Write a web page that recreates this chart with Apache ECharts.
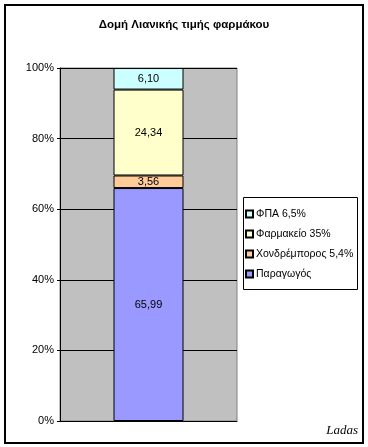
<!DOCTYPE html>
<html><head><meta charset="utf-8">
<script src="https://cdn.jsdelivr.net/npm/echarts@6/dist/echarts.min.js"></script>
<style>html,body{margin:0;padding:0;background:#fff}#c{width:368px;height:447px}</style>
</head><body><div id="c"></div>
<script>
const categories = ['Τιμή'];
const seriesNames = ['Παραγωγός', 'Χονδρέμπορος 5,4%', 'Φαρμακείο 35%', 'ΦΠΑ 6,5%'];
const seriesValues = [65.99, 3.56, 24.34, 6.10];
const seriesColors = ['#9999FF', '#FFCC99', '#FFFFCC', '#CCFFFF'];
const legendOrder = ['ΦΠΑ 6,5%', 'Φαρμακείο 35%', 'Χονδρέμπορος 5,4%', 'Παραγωγός'];
const yTicks = [0, 20, 40, 60, 80, 100];

const font = 'Liberation Sans, Arial, sans-serif';
const chart = echarts.init(document.getElementById('c'), null, {renderer: 'canvas'});
chart.setOption({
  animation: false,
  title: {
    text: 'Δομή Λιανικής τιμής φαρμάκου',
    left: 'center', top: 14,
    textStyle: {fontFamily: font, fontSize: 11.5, fontWeight: 'bold', color: '#000'}
  },
  grid: {left: 60, top: 68, width: 177, height: 353, show: true,
    backgroundColor: '#C0C0C0', borderColor: '#808080', borderWidth: 1},
  legend: {
    data: legendOrder, orient: 'vertical', left: 245, top: 208, padding: 0,
    itemWidth: 7, itemHeight: 7, itemGap: 8,
    textStyle: {fontFamily: font, fontSize: 10.5, color: '#000', padding: [0, 0, 0, -2], lineHeight: 12},
    icon: 'rect'
  },
  xAxis: {type: 'category', data: categories,
    axisLine: {show: true, lineStyle: {color: '#000'}}, axisTick: {show: false},
    axisLabel: {show: false}},
  yAxis: {type: 'value', min: 0, max: 100, interval: 20,
    axisLine: {show: true, lineStyle: {color: '#000'}},
    axisTick: {show: true, length: 3, lineStyle: {color: '#000'}},
    axisLabel: {formatter: v => yTicks.includes(v) ? v + '%' : '', fontFamily: font, fontSize: 11, color: '#000', margin: 6},
    splitLine: {show: true, lineStyle: {color: '#000', width: 1}}},
  series: seriesNames.map((n, i) => ({
    name: n, type: 'bar', stack: 'total', barWidth: 70,
    data: [seriesValues[i]],
    itemStyle: {color: seriesColors[i], borderColor: '#000', borderWidth: 1},
    label: {show: true, position: 'inside', fontFamily: font, fontSize: 11, color: '#000',
      formatter: p => p.value.toFixed(2).replace('.', ',')}
  })),
  graphic: [
    {type: 'rect', shape: {x: 5, y: 5, width: 358, height: 438}, style: {fill: 'none', stroke: '#000', lineWidth: 2}, z: 100},
    {type: 'rect', shape: {x: 243.5, y: 197.5, width: 114, height: 92}, style: {fill: 'none', stroke: '#000', lineWidth: 1}, z: 100},
    {type: 'text', right: 10, top: 424, style: {text: 'Ladas', fontFamily: 'Liberation Serif, Times New Roman, serif', fontStyle: 'italic', fontSize: 13, fill: '#000'}}
  ]
});
</script></body></html>
